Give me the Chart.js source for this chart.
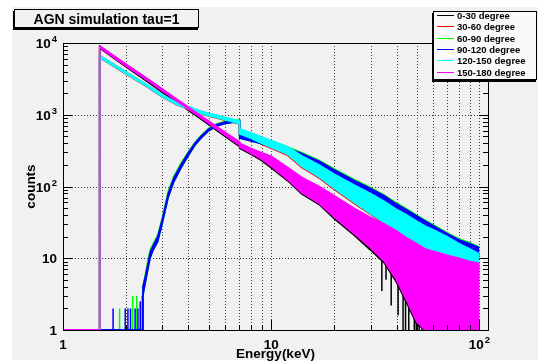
<!DOCTYPE html>
<html>
<head>
<meta charset="utf-8">
<script src="https://cdn.jsdelivr.net/npm/chart.js@4.4.0/dist/chart.umd.min.js"></script>
<style>
  html, body { margin: 0; padding: 0; background: #fff; }
  #wrap { position: relative; width: 540px; height: 363px; font-family: "Liberation Sans", Arial, sans-serif; font-weight: bold; }
  #chart { position: absolute; left: 0; top: 0; }
  .pave { position: absolute; border: 1px solid #000; box-shadow: -1px 2px 0 #000; }
  #title { left: 14px; top: 9px; width: 183px; height: 17px; background: #f1f1f1; font-size: 14px; line-height: 18px; text-align: center; }
  #legend { left: 433px; top: 11px; width: 102px; height: 67px; background: #fafafa; font-size: 9.5px; }
  .row { position: absolute; left: 0; height: 11px; width: 100px; }
  .row i { position: absolute; left: 3px; top: 5px; width: 17px; height: 1px; }
  .row span { position: absolute; left: 23px; top: 0; line-height: 11px; white-space: nowrap; }
</style>
</head>
<body>
<div id="wrap">
  <canvas id="chart" width="540" height="363"></canvas>
  <div id="title" class="pave">AGN simulation tau=1</div>
  <div id="legend" class="pave"></div>
</div>
<script>
// series names and colours (ROOT order: first drawn at the bottom)
const seriesNames = ["0-30 degree", "30-60 degree", "60-90 degree", "90-120 degree", "120-150 degree", "150-180 degree"];
const seriesColors = ["#000000", "#ff0000", "#00ff00", "#0000ff", "#00ffff", "#ff00ff"];

// energy grid (keV) for the falling spectra: 0-30, 30-60, 120-150, 150-180
const eSoft = [1, 1.5, 1.5, 2, 2.5, 3, 3.5, 4, 4.5, 5, 6, 7.05, 7.05, 8, 9, 10, 12, 14, 17, 20, 25, 30, 35, 40, 45, 50, 55, 60, 70, 80, 90, 100];
// energy grid (keV) for the absorbed spectra: 60-90, 90-120
const eHard = [1, 2.4, 2.42, 2.5, 2.62, 2.71, 2.85, 3.0, 3.2, 3.4, 3.7, 4.0, 4.3, 4.6, 5, 5.5, 6, 6.5, 7.05, 7.05, 8, 9, 10, 12, 14, 17, 20, 25, 30, 35, 40, 45, 50, 55, 60, 70, 80, 90, 100];

// upper / lower edge of each noisy histogram band (counts)
const blackHi = [1, 1, 9000, 5050, 3270, 2250, 1650, 1270, 1000, 810, 565, 415, 395, 335, 290, 260, 180, 130, 96, 72, 48, 35, 28, 22, 17, 14, 12, 11, 10, 9, 8, 7.5];
const blackLo = [1, 1, 8500, 4700, 3000, 2050, 1510, 1150, 910, 730, 500, 360, 340, 280, 230, 182, 120, 79, 56, 36, 21, 13, 8.5, 4.6, 2.3, 1.2, 1, 1, 1, 1, 1, 1];
const redHi = [1, 1, 6650, 3980, 2680, 1890, 1490, 1290, 1140, 1040, 910, 810, 600, 520, 450, 400, 330, 245, 180, 135, 95, 72, 56, 43, 36, 30, 25, 22.5, 18, 14.5, 12, 10.5];
const redLo = [1, 1, 6250, 3720, 2510, 1760, 1390, 1190, 1050, 960, 840, 740, 525, 455, 388, 340, 272, 184, 131, 92, 58, 41, 30, 21.5, 16.5, 13.6, 11.6, 10.2, 8.2, 7, 6, 5.3];
const greenHi = [1, 1, 4, 6.5, 13, 16, 21, 37, 85, 138, 215, 305, 410, 515, 645, 750, 810, 835, 850, 535, 495, 458, 432, 355, 298, 231, 177, 126, 97, 76, 59, 48.5, 40, 34, 29.5, 22.7, 18.6, 16.5, 14.4];
const greenLo = [1, 1, 3, 5, 10, 13, 17, 31, 70, 115, 185, 270, 375, 470, 595, 695, 755, 780, 795, 470, 430, 395, 370, 300, 245, 190, 140, 97, 74, 58, 44, 36, 30, 25, 22, 17, 14, 12.5, 11];
const blueHi = [1, 1, 4, 6, 12, 15, 20, 35, 80, 130, 205, 295, 400, 500, 630, 730, 790, 815, 830, 520, 480, 445, 420, 345, 290, 225, 172, 122, 94, 74, 57, 47, 39, 33, 28.5, 22, 18, 16, 14];
const blueLo = [1, 1, 3, 5, 10, 13, 17, 31, 70, 115, 185, 270, 375, 470, 595, 695, 755, 780, 795, 470, 430, 395, 370, 300, 245, 190, 140, 97, 74, 58, 44, 36, 30, 25, 22, 17, 14, 12.5, 11];
const cyanHi = [1, 1, 6700, 4000, 2700, 1900, 1500, 1300, 1150, 1050, 920, 820, 640, 560, 490, 440, 360, 270, 200, 150, 105, 80, 62, 48, 40, 33, 28, 25, 20, 16, 13.5, 11.5];
const cyanLo = [1, 1, 6300, 3750, 2530, 1780, 1400, 1200, 1060, 970, 850, 750, 540, 470, 400, 350, 280, 190, 135, 95, 60, 42, 31, 22, 17, 14, 12, 10.5, 8.5, 7.2, 6.2, 5.5];
const magentaHi = [1, 1, 9100, 5100, 3300, 2270, 1670, 1280, 1010, 820, 570, 420, 400, 340, 295, 265, 185, 135, 100, 75, 50, 37, 30, 24, 19, 16, 13.5, 12.5, 11, 10, 9, 8.5];
const magentaLo = [1, 1, 8600, 4800, 3100, 2130, 1570, 1200, 950, 760, 520, 375, 355, 290, 240, 190, 125, 82, 58, 38, 22, 14, 9, 5, 2.5, 1.3, 1, 1, 1, 1, 1, 1];

// single-bin spikes
const blueSpikeE = [1.74, 1.99, 2.05, 2.11, 2.22, 2.29, 2.35];
const blueSpikeV = [2, 2, 2, 2, 2, 2, 2.5];
const greenSpikeE = [1.87, 2.16, 2.26, 2.39];
const greenSpikeV = [2, 3, 3, 3];
const blackSpikeE = [34, 35.6, 37.7, 40.7, 43, 44.2, 45.8, 48.7, 49.8, 51.4, 53];
const blackSpikeHi = [12, 10, 9, 7, 5, 5, 4, 3, 3, 2.5, 2];
const blackSpikeLo = [3.5, 5, 2.2, 1.6, 1, 1, 1, 1, 1, 1, 1];

// axes
const xMajor = [1, 10, 100];
const xMajorLabels = ["1", "10", "10^2"];
const yMajor = [1, 10, 100, 1000, 10000];
const yMajorLabels = ["1", "10", "10^2", "10^3", "10^4"];
const xGrid = [2, 3, 4, 5, 6, 7, 8, 9, 10, 20, 30, 40, 50, 60, 70, 80, 90, 100];
const yGrid = [10, 100, 1000];

const pts = (e, v) => e.map((x, i) => ({ x: x, y: v[i] }));

function band(idx, e, hi, lo, order) {
  const c = seriesColors[idx];
  const common = { borderColor: c, backgroundColor: c, borderWidth: 1.5, pointRadius: 0, tension: 0, order: order };
  const top = Object.assign({ label: seriesNames[idx], data: pts(e, hi), fill: false }, common);
  if (idx === 5) {
    top.segment = { borderColor: s => (s.p0.parsed.x === s.p1.parsed.x && s.p0.parsed.x < 2) ? "#b653d4" : undefined };
  }
  const bottom = Object.assign({ label: seriesNames[idx] + " low", data: pts(e, lo), fill: "-1" }, common);
  return [top, bottom];
}

function spikes(idx, e, hi, lo, order) {
  const data = [];
  e.forEach((x, i) => {
    data.push({ x: x, y: lo ? lo[i] : 1 }, { x: x, y: hi[i] }, { x: x, y: null });
  });
  return { label: seriesNames[idx] + " spikes", data: data, borderColor: seriesColors[idx], borderWidth: 1.5, pointRadius: 0, fill: false, spanGaps: false, order: order };
}

const datasets = [].concat(
  band(0, eSoft, blackHi, blackLo, 6), [spikes(0, blackSpikeE, blackSpikeHi, blackSpikeLo, 6)],
  band(1, eSoft, redHi, redLo, 5),
  band(2, eHard, greenHi, greenLo, 4), [spikes(2, greenSpikeE, greenSpikeV, null, 4)],
  band(3, eHard, blueHi, blueLo, 3), [spikes(3, blueSpikeE, blueSpikeV, null, 3)],
  band(4, eSoft, cyanHi, cyanLo, 2),
  band(5, eSoft, magentaHi, magentaLo, 1)
);

const FONT = '"Liberation Sans", Arial, sans-serif';

function drawPow(ctx, label, x, y, align) {
  const parts = label.split("^");
  ctx.font = "bold 13.5px " + FONT;
  const wb = ctx.measureText(parts[0]).width;
  ctx.font = "bold 9.5px " + FONT;
  const we = parts[1] ? ctx.measureText(parts[1]).width + 1 : 0;
  const left = align === "right" ? x - wb - we : x - (wb + we) / 2;
  ctx.textAlign = "left";
  ctx.textBaseline = "alphabetic";
  ctx.font = "bold 13.5px " + FONT;
  ctx.fillText(parts[0], left, y);
  if (parts[1]) {
    ctx.font = "bold 9.5px " + FONT;
    ctx.fillText(parts[1], left + wb + 1, y - 6);
  }
}

const rootPad = {
  id: "rootPad",
  beforeDraw(chart) {
    const ctx = chart.ctx, a = chart.chartArea, xs = chart.scales.x, ys = chart.scales.y;
    ctx.save();
    ctx.fillStyle = "#ffffff";
    ctx.fillRect(0, 0, chart.width, chart.height);
    ctx.fillStyle = "#f1f1f1";
    ctx.fillRect(12, 7, 526, 353);
    ctx.strokeStyle = "#3a3a3a";
    ctx.lineWidth = 1;
    ctx.setLineDash([1, 2]);
    xGrid.forEach(v => {
      const px = Math.round(xs.getPixelForValue(v)) + 0.5;
      ctx.beginPath(); ctx.moveTo(px, a.top); ctx.lineTo(px, a.bottom); ctx.stroke();
    });
    yGrid.forEach(v => {
      const py = Math.round(ys.getPixelForValue(v)) + 0.5;
      ctx.beginPath(); ctx.moveTo(a.left, py); ctx.lineTo(a.right, py); ctx.stroke();
    });
    ctx.restore();
  },
  afterDatasetsDraw(chart) {
    const ctx = chart.ctx, a = chart.chartArea, xs = chart.scales.x, ys = chart.scales.y;
    ctx.save();
    ctx.strokeStyle = "#000";
    ctx.fillStyle = "#000";
    ctx.lineWidth = 1;
    ctx.strokeRect(Math.round(a.left) + 0.5, Math.round(a.top) + 0.5, Math.round(a.right - a.left), Math.round(a.bottom - a.top));
    // y ticks, both sides
    for (let d = 1; d <= 1000; d *= 10) {
      for (let m = 1; m <= 10; m++) {
        const v = d * m;
        if (v > 10000) continue;
        const py = Math.round(ys.getPixelForValue(v)) + 0.5;
        const len = (m === 1 || m === 10) ? 9 : 5;
        ctx.beginPath();
        ctx.moveTo(a.left, py); ctx.lineTo(a.left + len, py);
        ctx.moveTo(a.right, py); ctx.lineTo(a.right - len, py);
        ctx.stroke();
      }
    }
    // x ticks, bottom
    for (let d = 1; d <= 100; d *= 10) {
      for (let m = 1; m <= 9; m++) {
        const v = d * m;
        if (v > 110) continue;
        const px = Math.round(xs.getPixelForValue(v)) + 0.5;
        const len = m === 1 ? 10 : 5;
        ctx.beginPath(); ctx.moveTo(px, a.bottom); ctx.lineTo(px, a.bottom - len); ctx.stroke();
      }
    }
    // tick labels
    xMajor.forEach((v, i) => drawPow(ctx, xMajorLabels[i], xs.getPixelForValue(v), 349, "center"));
    yMajor.forEach((v, i) => drawPow(ctx, yMajorLabels[i], 57, ys.getPixelForValue(v) + 5, "right"));
    // axis titles
    ctx.font = "bold 13.5px " + FONT;
    ctx.textAlign = "center";
    ctx.textBaseline = "alphabetic";
    ctx.fillText("Energy(keV)", (a.left + a.right) / 2, 358);
    ctx.translate(35, (a.top + a.bottom) / 2);
    ctx.rotate(-Math.PI / 2);
    ctx.fillText("counts", 0, 0);
    ctx.restore();
  }
};

new Chart(document.getElementById("chart").getContext("2d"), {
  type: "line",
  data: { datasets: datasets },
  options: {
    responsive: false,
    animation: false,
    devicePixelRatio: 1,
    events: [],
    layout: { padding: { left: 63, top: 43, right: 52, bottom: 33 } },
    scales: {
      x: { type: "logarithmic", min: 1, max: 110, display: false },
      y: { type: "logarithmic", min: 1, max: 10000, display: false }
    },
    plugins: {
      legend: { display: false },
      tooltip: { enabled: false },
      filler: { drawTime: "beforeDatasetDraw" }
    }
  },
  plugins: [rootPad]
});

// legend box
const legend = document.getElementById("legend");
seriesNames.forEach((name, i) => {
  const row = document.createElement("div");
  row.className = "row";
  row.style.top = (-2 + 11.3 * i) + "px";
  const line = document.createElement("i");
  line.style.background = seriesColors[i];
  const text = document.createElement("span");
  text.textContent = name;
  row.appendChild(line);
  row.appendChild(text);
  legend.appendChild(row);
});
</script>
</body>
</html>
